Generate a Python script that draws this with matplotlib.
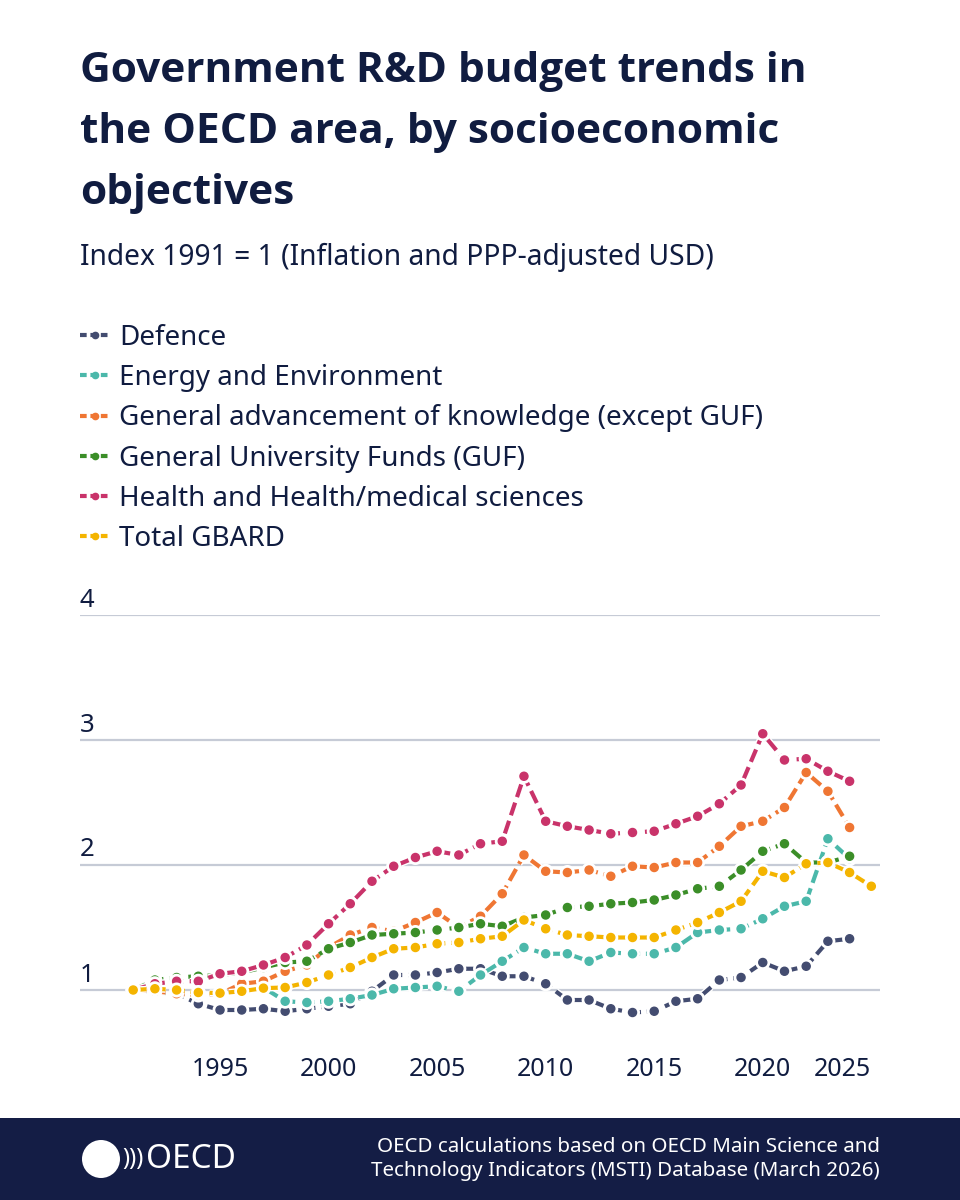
"""
Government R&D budget trends in the OECD area, by socioeconomic objectives.
"""
import matplotlib
matplotlib.use('Agg')
import matplotlib.pyplot as plt
import matplotlib.patheffects as pe
from matplotlib.lines import Line2D
from matplotlib.patches import Ellipse, Rectangle

plt.rcParams['font.family'] = ['Noto Sans', 'DejaVu Sans']

TEXT = '#101c40'
GRID = '#c6cbd6'
NAVY = '#141d45'

# --- data (index 1991 = 1) ---
years = list(range(1991, 2025))
years_total = list(range(1991, 2026))

defence = [1.00, 0.99, 0.97, 0.89, 0.84, 0.84, 0.85, 0.83, 0.85, 0.87,
           0.89, 0.99, 1.12, 1.12, 1.14, 1.17, 1.17, 1.11, 1.11, 1.05,
           0.92, 0.92, 0.85, 0.82, 0.83, 0.91, 0.93, 1.08, 1.10, 1.22,
           1.15, 1.19, 1.39, 1.41]
energy = [1.00, 0.98, 0.97, 0.97, 0.97, 0.99, 1.02, 0.91, 0.90, 0.91,
          0.93, 0.96, 1.01, 1.02, 1.03, 0.99, 1.12, 1.23, 1.34, 1.29,
          1.29, 1.23, 1.30, 1.29, 1.29, 1.34, 1.46, 1.48, 1.49, 1.57,
          1.67, 1.71, 2.21, 2.05]
knowledge = [1.00, 0.99, 0.97, 0.96, 0.97, 1.05, 1.07, 1.15, 1.20, 1.34,
             1.44, 1.50, 1.47, 1.54, 1.62, 1.50, 1.59, 1.77, 2.08, 1.95,
             1.94, 1.96, 1.91, 1.99, 1.98, 2.02, 2.02, 2.15, 2.31, 2.35,
             2.46, 2.74, 2.59, 2.30]
guf = [1.00, 1.08, 1.10, 1.11, 1.12, 1.14, 1.18, 1.22, 1.23, 1.33,
       1.38, 1.44, 1.45, 1.46, 1.48, 1.50, 1.53, 1.51, 1.58, 1.60,
       1.66, 1.67, 1.69, 1.70, 1.72, 1.76, 1.81, 1.83, 1.96, 2.11,
       2.17, 2.02, 2.02, 2.07]
health = [1.00, 1.05, 1.07, 1.07, 1.13, 1.15, 1.20, 1.26, 1.36, 1.53,
          1.69, 1.87, 1.99, 2.06, 2.11, 2.08, 2.17, 2.19, 2.71, 2.35,
          2.31, 2.28, 2.25, 2.26, 2.27, 2.33, 2.39, 2.49, 2.64, 3.05,
          2.84, 2.85, 2.75, 2.67]
total = [1.00, 1.01, 1.00, 0.98, 0.975, 0.99, 1.015, 1.02, 1.06, 1.12,
         1.18, 1.26, 1.33, 1.34, 1.37, 1.38, 1.41, 1.43, 1.56, 1.49,
         1.44, 1.43, 1.42, 1.42, 1.42, 1.48, 1.54, 1.62, 1.71, 1.95,
         1.90, 2.01, 2.02, 1.94, 1.83]

series = [
    ('Defence', years, defence, '#434c70'),
    ('Energy and Environment', years, energy, '#4bb8aa'),
    ('General advancement of knowledge (except GUF)', years, knowledge, '#ef7633'),
    ('General University Funds (GUF)', years, guf, '#3b8e28'),
    ('Health and Health/medical sciences', years, health, '#c9336a'),
    ('Total GBARD', years_total, total, '#f4b400'),
]

y_ticks = [1, 2, 3, 4]
x_ticks = [1995, 2000, 2005, 2010, 2015, 2020, 2025]

W, H = 960, 1200
fig = plt.figure(figsize=(W / 100, H / 100), dpi=100)
fig.patch.set_facecolor('white')

# title + subtitle
title_lines = ['Government R&D budget trends in',
               'the OECD area, by socioeconomic',
               'objectives']
for i, line in enumerate(title_lines):
    fig.text(80 / W, 1 - (82 + 61 * i) / H, line, fontsize=30.5,
             fontweight='bold', family=['Open Sans', 'DejaVu Sans'],
             color=TEXT, va='baseline', ha='left')
fig.text(80 / W, 1 - 265 / H, 'Index 1991 = 1 (Inflation and PPP-adjusted USD)',
         fontsize=20.3, color=TEXT, va='baseline', ha='left')

# plot area
ax = fig.add_axes([80 / W, 1 - 1040 / H, 800 / W, 425 / H])
ax.set_xlim(1988.55, 2025.4)
ax.set_ylim(0.6, 4.0)
for s in ax.spines.values():
    s.set_visible(False)
ax.set_yticks(y_ticks)
ax.set_yticklabels([])
ax.tick_params(axis='y', length=0)
ax.grid(axis='y', color=GRID, linewidth=1.6)
ax.set_axisbelow(True)
ax.set_xticks(x_ticks)
ax.set_xticklabels([str(x) for x in x_ticks])
ax.tick_params(axis='x', length=0, pad=12, labelsize=18, labelcolor=TEXT)
ax.get_xticklabels()[-1].set_ha('right')

for t in y_ticks:
    ax.text(0, t + 0.02, str(t), transform=ax.get_yaxis_transform(),
            ha='left', va='bottom', fontsize=18.5, color=TEXT)

handles = []
for name, xs, ys, col in series:
    ax.plot(xs, ys, color=col, linewidth=3.0, linestyle=(0, (3.2, 1.4)),
            marker='o', markersize=5.8, markeredgecolor=col,
            dash_capstyle='butt', clip_on=False,
            path_effects=[pe.Stroke(linewidth=5.0, foreground='white'), pe.Normal()])
    handles.append(Line2D([0], [0], color=col, linewidth=3.0,
                          linestyle=(0, (1.6, 0.9)), marker='o', markersize=4.5,
                          markeredgecolor=col))

fig.legend(handles, [s[0] for s in series], loc='upper left',
           bbox_to_anchor=(80 / W, 1 - 324 / H), frameon=False,
           fontsize=20, labelcolor=TEXT, handlelength=1.1, handletextpad=0.32,
           labelspacing=0.44, borderaxespad=0, borderpad=0)

# footer band
fig.patches.append(Rectangle((0, 0), 1, 82 / H, transform=fig.transFigure,
                             facecolor=NAVY, edgecolor='none', zorder=0))
fig.patches.append(Ellipse((101 / W, 41 / H), 38 / W, 38 / H,
                           transform=fig.transFigure, facecolor='white',
                           edgecolor='none', zorder=1))
fig.text(122 / W, 41 / H, ')))', fontsize=17, fontweight='bold', color='white',
         va='center', ha='left')
fig.text(146 / W, 41 / H, 'OECD', fontsize=24, color='white',
         va='center', ha='left')
fig.text(880 / W, 41 / H,
         'OECD calculations based on OECD Main Science and\n'
         'Technology Indicators (MSTI) Database (March 2026)',
         fontsize=14.8, color='white', va='center', ha='right', linespacing=1.3)

fig.savefig('out.png', dpi=100, facecolor='white')
